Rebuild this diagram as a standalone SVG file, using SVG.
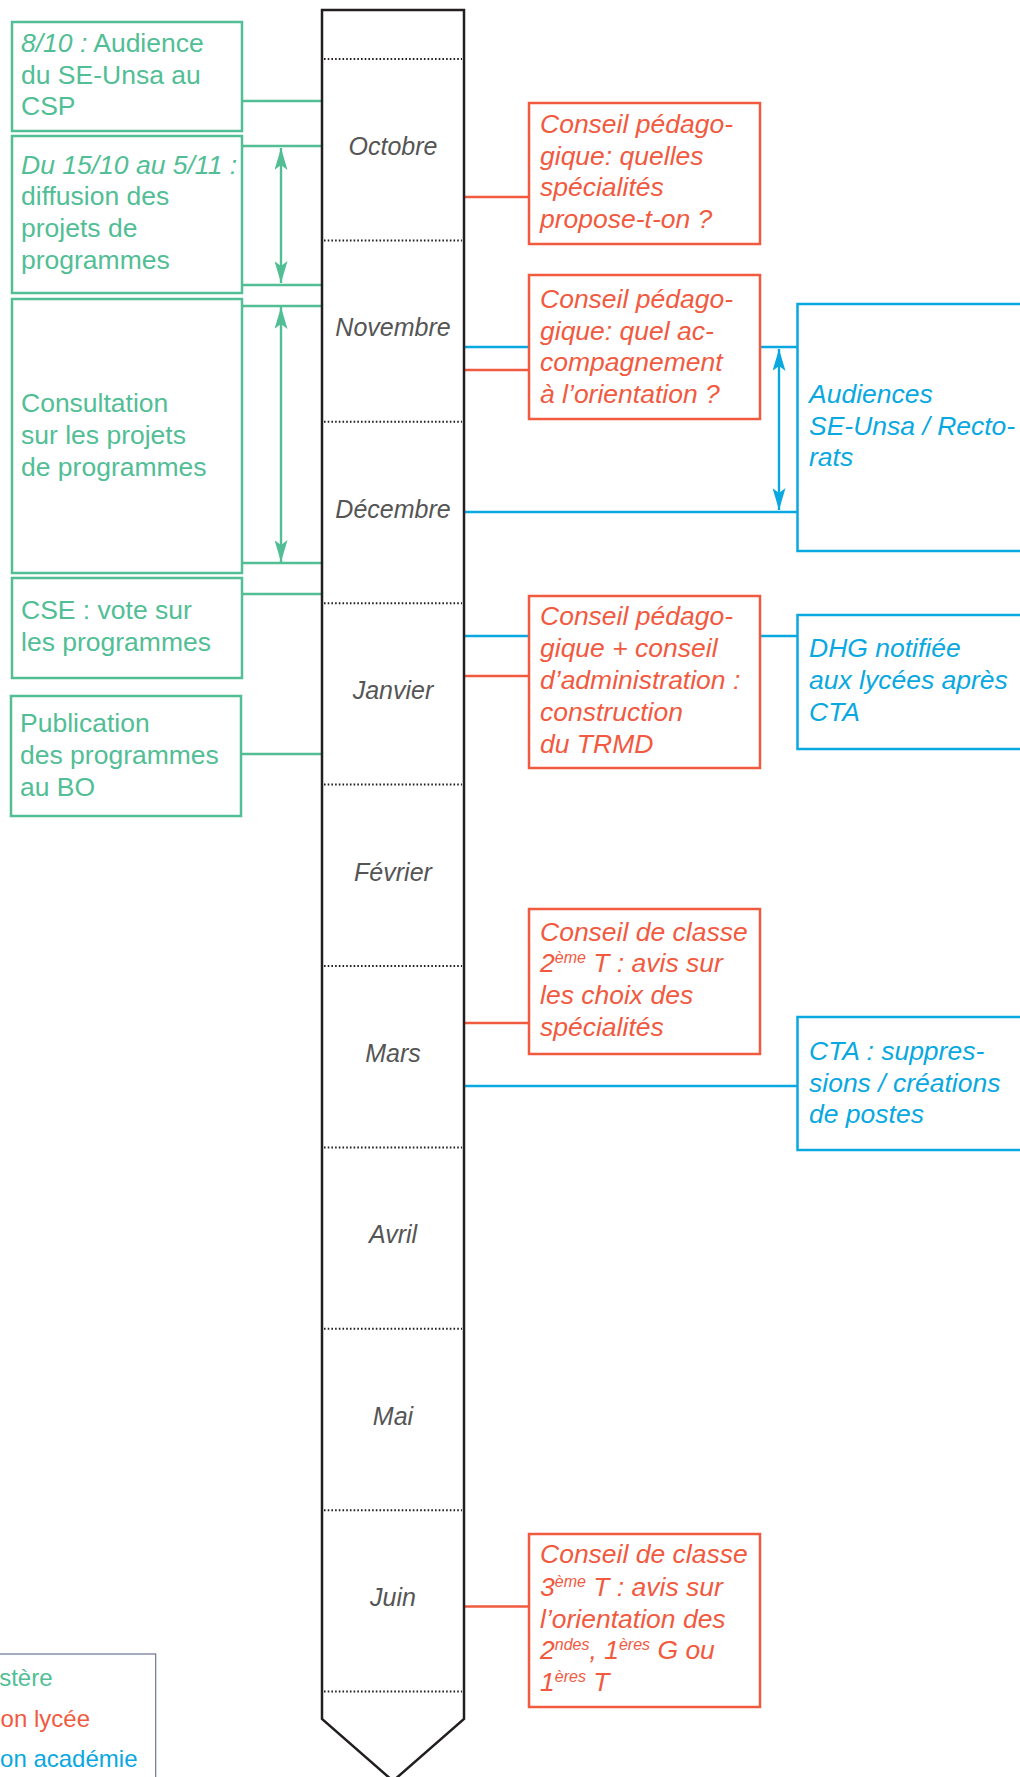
<svg xmlns="http://www.w3.org/2000/svg" width="1020" height="1777" viewBox="0 0 1020 1777">
<defs>
<style>
.t{font-family:"Liberation Sans",Arial,sans-serif;font-size:26.5px}
.i{font-style:italic}
.g{fill:#52be95}
.r{fill:#f15a3f}
.b{fill:#0aa8e0}
.gb{fill:#fff;stroke:#52be95;stroke-width:2.5}
.rb{fill:#fff;stroke:#f15a3f;stroke-width:2.5}
.bb{fill:#fff;stroke:#0aa8e0;stroke-width:2.5}
.gl{stroke:#52be95;stroke-width:2.4;fill:none}
.rl{stroke:#f15a3f;stroke-width:2.4;fill:none}
.bl{stroke:#0aa8e0;stroke-width:2.4;fill:none}
.dot{stroke:#231f20;stroke-width:2;stroke-dasharray:1.6 2.1}
.m{font-family:"Liberation Sans",Arial,sans-serif;font-size:25px;font-style:italic;fill:#555;text-anchor:middle}
.sup{font-size:16px}
.lg{font-family:"Liberation Sans",Arial,sans-serif;font-size:24px;text-anchor:end}
</style>
<marker id="ag" viewBox="0 0 22 13" refX="22" refY="6.5" markerWidth="22" markerHeight="13" markerUnits="userSpaceOnUse" orient="auto-start-reverse"><path d="M0,0 L22,6.5 L0,13 L5,6.5 Z" fill="#52be95"/></marker>
<marker id="ab" viewBox="0 0 22 13" refX="22" refY="6.5" markerWidth="22" markerHeight="13" markerUnits="userSpaceOnUse" orient="auto-start-reverse"><path d="M0,0 L22,6.5 L0,13 L5,6.5 Z" fill="#0aa8e0"/></marker>
</defs>
<rect x="0" y="0" width="1020" height="1777" fill="#fff"/>

<g id="connectors">
<line class="gl" x1="242" y1="101" x2="322" y2="101"/>
<line class="gl" x1="242" y1="146" x2="322" y2="146"/>
<line class="gl" x1="242" y1="285" x2="322" y2="285"/>
<line class="gl" x1="242" y1="306" x2="322" y2="306"/>
<line class="gl" x1="242" y1="563" x2="322" y2="563"/>
<line class="gl" x1="242" y1="594" x2="322" y2="594"/>
<line class="gl" x1="241" y1="754" x2="322" y2="754"/>
<line class="gl" x1="281" y1="148" x2="281" y2="283" marker-start="url(#ag)" marker-end="url(#ag)"/>
<line class="gl" x1="281" y1="307" x2="281" y2="562" marker-start="url(#ag)" marker-end="url(#ag)"/>
<line class="rl" x1="464" y1="197" x2="529" y2="197"/>
<line class="rl" x1="464" y1="370" x2="529" y2="370"/>
<line class="rl" x1="464" y1="676" x2="529" y2="676"/>
<line class="rl" x1="464" y1="1023" x2="529" y2="1023"/>
<line class="rl" x1="464" y1="1606.5" x2="529" y2="1606.5"/>
<line class="bl" x1="464" y1="347" x2="529" y2="347"/>
<line class="bl" x1="760" y1="347" x2="797.5" y2="347"/>
<line class="bl" x1="464" y1="512" x2="797.5" y2="512"/>
<line class="bl" x1="464" y1="636" x2="529" y2="636"/>
<line class="bl" x1="760" y1="636" x2="797.5" y2="636"/>
<line class="bl" x1="464" y1="1086" x2="797.5" y2="1086"/>
<line class="bl" x1="779" y1="349" x2="779" y2="510" marker-start="url(#ab)" marker-end="url(#ab)"/>
</g>

<g id="timeline">
<path d="M322,10 L464,10 L464,1719 L393,1781 L322,1719 Z" fill="#fff" stroke="#231f20" stroke-width="2.5"/>
<line class="dot" x1="324" y1="59" x2="462" y2="59"/>
<line class="dot" x1="324" y1="240.4" x2="462" y2="240.4"/>
<line class="dot" x1="324" y1="421.8" x2="462" y2="421.8"/>
<line class="dot" x1="324" y1="603.2" x2="462" y2="603.2"/>
<line class="dot" x1="324" y1="784.6" x2="462" y2="784.6"/>
<line class="dot" x1="324" y1="966" x2="462" y2="966"/>
<line class="dot" x1="324" y1="1147.4" x2="462" y2="1147.4"/>
<line class="dot" x1="324" y1="1328.8" x2="462" y2="1328.8"/>
<line class="dot" x1="324" y1="1510.2" x2="462" y2="1510.2"/>
<line class="dot" x1="324" y1="1691.6" x2="462" y2="1691.6"/>
<text class="m" x="393" y="155">Octobre</text>
<text class="m" x="393" y="336.4">Novembre</text>
<text class="m" x="393" y="517.8">Décembre</text>
<text class="m" x="393" y="699.2">Janvier</text>
<text class="m" x="393" y="880.6">Février</text>
<text class="m" x="393" y="1062">Mars</text>
<text class="m" x="393" y="1243.4">Avril</text>
<text class="m" x="393" y="1424.8">Mai</text>
<text class="m" x="393" y="1606.2">Juin</text>
</g>

<g id="g1">
<rect class="gb" x="12" y="22" width="230" height="109"/>
<text class="t g" x="21" y="52"><tspan class="i">8/10 :</tspan> Audience</text>
<text class="t g" x="21" y="83.5">du SE-Unsa au</text>
<text class="t g" x="21" y="115">CSP</text>
</g>
<g id="g2">
<rect class="gb" x="12" y="136" width="230" height="157"/>
<text class="t g i" x="21" y="173.5">Du 15/10 au 5/11 :</text>
<text class="t g" x="21" y="205">diffusion des</text>
<text class="t g" x="21" y="237">projets de</text>
<text class="t g" x="21" y="269">programmes</text>
</g>
<g id="g3">
<rect class="gb" x="12" y="299" width="230" height="274"/>
<text class="t g" x="21" y="412">Consultation</text>
<text class="t g" x="21" y="444">sur les projets</text>
<text class="t g" x="21" y="476">de programmes</text>
</g>
<g id="g4">
<rect class="gb" x="12" y="578" width="230" height="100"/>
<text class="t g" x="21" y="619">CSE : vote sur</text>
<text class="t g" x="21" y="651">les programmes</text>
</g>
<g id="g5">
<rect class="gb" x="11" y="696" width="230" height="120"/>
<text class="t g" x="20" y="732">Publication</text>
<text class="t g" x="20" y="764">des programmes</text>
<text class="t g" x="20" y="796">au BO</text>
</g>

<g id="r1">
<rect class="rb" x="529" y="103" width="231" height="141"/>
<text class="t r i" x="540" y="133">Conseil pédago-</text>
<text class="t r i" x="540" y="164.5">gique: quelles</text>
<text class="t r i" x="540" y="196">spécialités</text>
<text class="t r i" x="540" y="227.5">propose-t-on ?</text>
</g>
<g id="r2">
<rect class="rb" x="529" y="275" width="231" height="144"/>
<text class="t r i" x="540" y="308">Conseil pédago-</text>
<text class="t r i" x="540" y="339.5">gique: quel ac-</text>
<text class="t r i" x="540" y="371">compagnement</text>
<text class="t r i" x="540" y="402.5">à l’orientation ?</text>
</g>
<g id="r3">
<rect class="rb" x="529" y="596" width="231" height="172"/>
<text class="t r i" x="540" y="625">Conseil pédago-</text>
<text class="t r i" x="540" y="657">gique + conseil</text>
<text class="t r i" x="540" y="689">d’administration :</text>
<text class="t r i" x="540" y="721">construction</text>
<text class="t r i" x="540" y="753">du TRMD</text>
</g>
<g id="r4">
<rect class="rb" x="529" y="909" width="231" height="145"/>
<text class="t r i" x="540" y="941">Conseil de classe</text>
<text class="t r i" x="540" y="972">2<tspan class="sup" dy="-9">ème</tspan><tspan dy="9"> T : avis sur</tspan></text>
<text class="t r i" x="540" y="1004">les choix des</text>
<text class="t r i" x="540" y="1036">spécialités</text>
</g>
<g id="r5">
<rect class="rb" x="529" y="1534" width="231" height="173"/>
<text class="t r i" x="540" y="1563">Conseil de classe</text>
<text class="t r i" x="540" y="1595.5">3<tspan class="sup" dy="-9">ème</tspan><tspan dy="9"> T : avis sur</tspan></text>
<text class="t r i" x="540" y="1627.5">l’orientation des</text>
<text class="t r i" x="540" y="1659">2<tspan class="sup" dy="-9">ndes</tspan><tspan dy="9">, 1</tspan><tspan class="sup" dy="-9">ères</tspan><tspan dy="9"> G ou</tspan></text>
<text class="t r i" x="540" y="1691">1<tspan class="sup" dy="-9">ères</tspan><tspan dy="9"> T</tspan></text>
</g>

<g id="b1">
<rect class="bb" x="797.5" y="304" width="240" height="247"/>
<text class="t b i" x="809" y="403">Audiences</text>
<text class="t b i" x="809" y="434.5">SE-Unsa / Recto-</text>
<text class="t b i" x="809" y="466">rats</text>
</g>
<g id="b2">
<rect class="bb" x="797.5" y="615" width="240" height="134"/>
<text class="t b i" x="809" y="657">DHG notifiée</text>
<text class="t b i" x="809" y="689">aux lycées après</text>
<text class="t b i" x="809" y="721">CTA</text>
</g>
<g id="b3">
<rect class="bb" x="797.5" y="1017" width="240" height="133"/>
<text class="t b i" x="809" y="1060">CTA : suppres-</text>
<text class="t b i" x="809" y="1092">sions / créations</text>
<text class="t b i" x="809" y="1123">de postes</text>
</g>

<g id="legend">
<rect x="-10" y="1654" width="165.7" height="140" fill="#fff" stroke="#6a7590" stroke-width="1.2"/>
<text class="lg g" x="52.5" y="1686">stère</text>
<text class="lg r" x="90" y="1727">on lycée</text>
<text class="lg b" x="137.5" y="1767">on académie</text>
</g>
</svg>
